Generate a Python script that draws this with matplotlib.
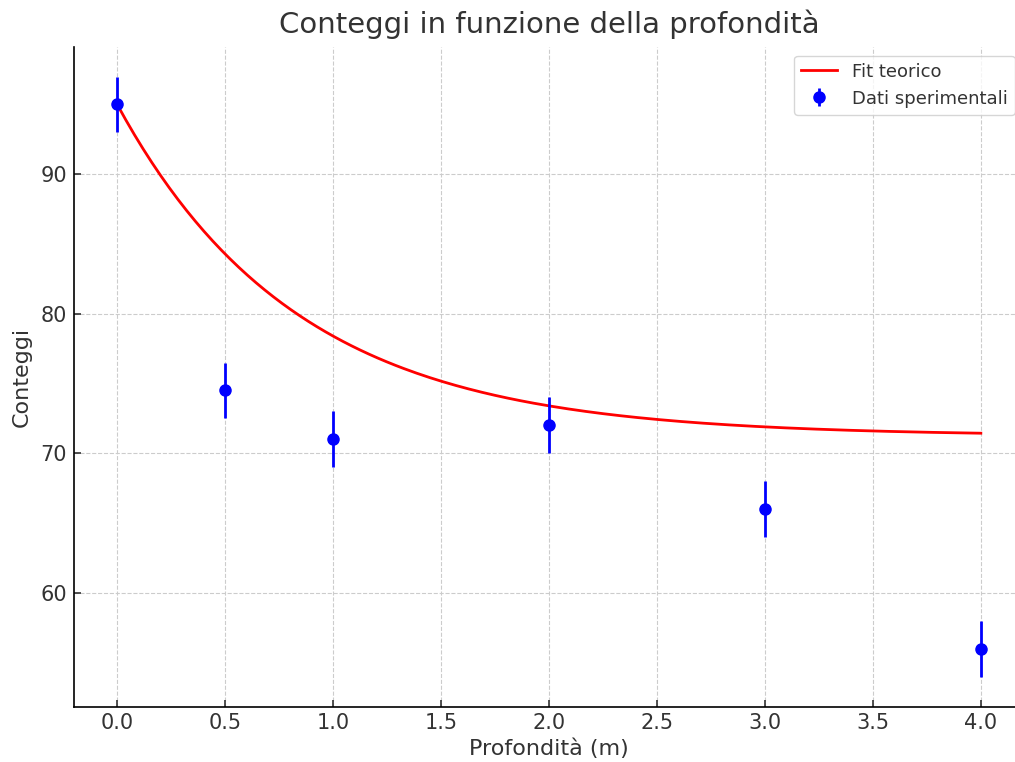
import matplotlib.pyplot as plt
import numpy as np

# Data
profondita = [0.0, 0.5, 1.0, 2.0, 3.0, 4.0]
conteggi = [95, 74.5, 71, 72, 66, 56]
errori = [2, 2, 2, 2, 2, 2]

# Fit parameters (exponential decay + offset)
fit_A = 23.76
fit_k = 1.2
fit_C = 71.24

x_fit = np.linspace(0, 4, 200)
y_fit = fit_A * np.exp(-fit_k * x_fit) + fit_C

text_col = '#333333'
plt.rcParams['text.color'] = text_col
plt.rcParams['axes.labelcolor'] = text_col
plt.rcParams['xtick.color'] = text_col
plt.rcParams['ytick.color'] = text_col

fig = plt.figure(figsize=(10.15, 7.62), dpi=100)
ax = fig.add_axes([74 / 1015, 1 - 706.5 / 762, 950 / 1015, 660 / 762])

ax.plot(x_fit, y_fit, color='red', linewidth=2, label='Fit teorico')
ax.errorbar(profondita, conteggi, yerr=errori, fmt='o', color='blue',
            markersize=8, elinewidth=2, label='Dati sperimentali')

ax.set_title('Conteggi in funzione della profondità', fontsize=21, pad=10)
ax.set_xlabel('Profondità (m)', fontsize=16, labelpad=4)
ax.set_ylabel('Conteggi', fontsize=16, labelpad=6)
ax.set_xticks(np.arange(0, 4.01, 0.5))
ax.set_yticks([60, 70, 80, 90])
ax.tick_params(labelsize=15, direction='in', length=5, width=1.2,
               pad=5, colors='#333333')
ax.grid(True, linestyle='--', color='#cccccc', linewidth=0.8)
ax.spines['top'].set_visible(False)
ax.spines['right'].set_visible(False)
ax.spines['left'].set_linewidth(1.2)
ax.spines['bottom'].set_linewidth(1.2)
ax.legend(loc='upper right', fontsize=13)

fig.savefig('out.png', dpi=100)
